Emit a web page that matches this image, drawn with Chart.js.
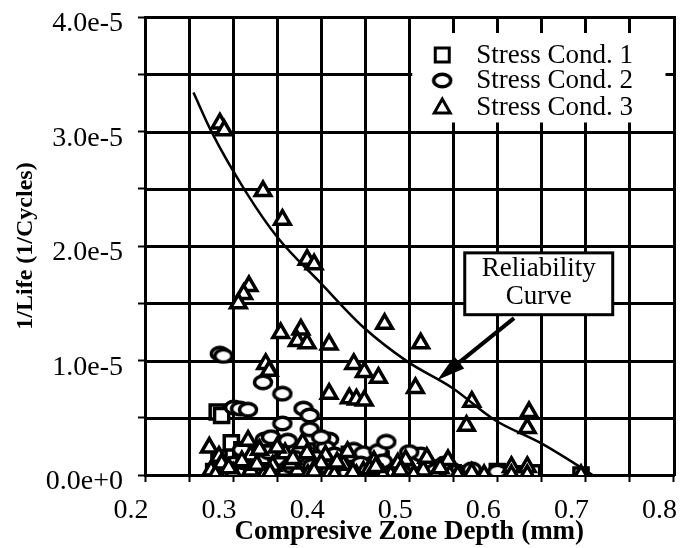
<!DOCTYPE html>
<html>
<head>
<meta charset="utf-8">
<title>Reliability curve</title>
<script src="https://cdn.jsdelivr.net/npm/chart.js@4.4.1/dist/chart.umd.min.js"></script>
<style>
  html, body { margin: 0; padding: 0; background: #fff; }
  canvas { display: block; }
</style>
</head>
<body>
<canvas id="myChart" width="687" height="548"></canvas>
<script>
/* globals Chart:false */

(() => {
  'use strict'

  // 1/Life values are written in units of 1e-5 (converted below)
  const cond1X = [0.282, 0.287, 0.298, 0.278, 0.292, 0.305, 0.318, 0.33, 0.342, 0.354, 0.366, 0.378, 0.39, 0.402, 0.414, 0.426, 0.438, 0.45, 0.462, 0.474, 0.486, 0.498, 0.51, 0.522, 0.535, 0.55, 0.57, 0.6, 0.625, 0.64, 0.695,
    0.284, 0.296, 0.31, 0.324, 0.336, 0.348, 0.36, 0.372, 0.384, 0.396, 0.408, 0.42, 0.432, 0.444, 0.456, 0.468, 0.48, 0.492, 0.504, 0.516, 0.528, 0.54]
  const cond1Y = [0.55, 0.52, 0.28, 0.03, 0.08, 0.02, 0.12, 0.04, 0.09, 0.19, 0.03, 0.11, 0.05, 0.02, 0.13, 0.06, 0.02, 0.08, 0.03, 0.05, 0.01, 0.04, 0.02, 0.06, 0.01, 0.02, 0.01, 0.03, 0.01, 0.02, 0.0,
    0.15, 0.0, 0.22, 0.0, 0.16, 0.01, 0.06, 0.0, 0.21, 0.0, 0.07, 0.0, 0.18, 0.01, 0.0, 0.14, 0.0, 0.03, 0.1, 0.0, 0.0, 0.05]

  const cond2X = [0.285, 0.289, 0.301, 0.308, 0.317, 0.334, 0.356, 0.356, 0.336, 0.343, 0.38, 0.387, 0.387, 0.409, 0.372, 0.437, 0.448, 0.465, 0.474, 0.513, 0.571, 0.3, 0.32, 0.35, 0.365, 0.395, 0.42, 0.455, 0.49, 0.53, 0.6,
    0.31, 0.325, 0.34, 0.37, 0.39, 0.405, 0.43, 0.47, 0.5, 0.54, 0.362, 0.4, 0.415, 0.445]
  const cond2Y = [1.06, 1.04, 0.59, 0.58, 0.57, 0.81, 0.71, 0.45, 0.31, 0.33, 0.58, 0.52, 0.4, 0.31, 0.22, 0.22, 0.19, 0.21, 0.29, 0.18, 0.05, 0.1, 0.18, 0.14, 0.08, 0.15, 0.12, 0.06, 0.09, 0.04, 0.03,
    0.22, 0.05, 0.2, 0.15, 0.08, 0.24, 0.02, 0.12, 0.2, 0.1, 0.3, 0.33, 0.18, 0.1]

  const cond3X = [0.285, 0.29, 0.334, 0.356, 0.384, 0.392, 0.318, 0.312, 0.306, 0.354, 0.377, 0.373, 0.384, 0.409, 0.472, 0.513, 0.337, 0.341, 0.437, 0.449, 0.465, 0.409, 0.432, 0.44, 0.449, 0.507, 0.571, 0.565, 0.636, 0.634,
    0.273, 0.284, 0.287, 0.275, 0.317, 0.32, 0.32, 0.33, 0.359, 0.345, 0.373, 0.379, 0.384, 0.393, 0.405, 0.41, 0.425, 0.448, 0.46, 0.479, 0.496, 0.498, 0.516, 0.53, 0.544, 0.546, 0.571, 0.585, 0.616, 0.616, 0.634, 0.634, 0.695,
    0.28, 0.3, 0.31, 0.335, 0.35, 0.365, 0.385, 0.4, 0.415, 0.43, 0.44, 0.455, 0.47, 0.487, 0.505, 0.52, 0.535, 0.555,
    0.295, 0.327, 0.342, 0.368, 0.392, 0.418, 0.436, 0.462, 0.49]
  const cond3Y = [3.07, 3.01, 2.48, 2.23, 1.88, 1.84, 1.65, 1.58, 1.5, 1.24, 1.27, 1.17, 1.15, 1.14, 1.32, 1.15, 0.97, 0.91, 0.97, 0.9, 0.85, 0.71, 0.67, 0.66, 0.65, 0.76, 0.64, 0.43, 0.55, 0.41,
    0.24, 0.16, 0.1, 0.04, 0.3, 0.17, 0.04, 0.22, 0.19, 0.08, 0.04, 0.28, 0.19, 0.06, 0.17, 0.02, 0.09, 0.03, 0.12, 0.0, 0.13, 0.0, 0.04, 0.0, 0.13, 0.0, 0.02, 0.0, 0.07, 0.0, 0.07, 0.0, 0.0,
    0.0, 0.02, 0.12, 0.0, 0.24, 0.1, 0.0, 0.1, 0.0, 0.2, 0.0, 0.05, 0.0, 0.1, 0.0, 0.15, 0.06, 0.0,
    0.06, 0.09, 0.02, 0.14, 0.03, 0.11, 0.02, 0.07, 0.04]

  const curveX = [0.255, 0.276, 0.314, 0.351, 0.399, 0.448, 0.498, 0.549, 0.597, 0.649, 0.694, 0.708]
  const curveY = [3.34, 2.99, 2.48, 2.07, 1.68, 1.29, 0.99, 0.76, 0.48, 0.28, 0.07, 0.0]

  const xTicks = [0.2, 0.25, 0.3, 0.35, 0.4, 0.45, 0.5, 0.55, 0.6, 0.65, 0.7, 0.75, 0.8]
  const xTickLabels = ['0.2', '', '0.3', '', '0.4', '', '0.5', '', '0.6', '', '0.7', '', '0.8']
  const yTicks = [0, 0.5, 1, 1.5, 2, 2.5, 3, 3.5, 4]
  const yTickLabels = ['0.0e+0', '', '1.0e-5', '', '2.0e-5', '', '3.0e-5', '', '4.0e-5']

  const seriesLabels = ['Stress Cond. 1', 'Stress Cond. 2', 'Stress Cond. 3']
  const curveLabel = ['Reliability', 'Curve']

  const SERIF = '"Liberation Serif", "Times New Roman", serif'
  const toPoints = (xs, ys) => xs.map((x, i) => ({ x, y: ys[i] * 1e-5 }))

  // slightly flattened open circle, as in the scanned figure
  function ellipseMarker () {
    const c = document.createElement('canvas')
    c.width = 22
    c.height = 17
    const g = c.getContext('2d')
    g.beginPath()
    g.ellipse(11, 8.5, 8.5, 6.3, 0, 0, Math.PI * 2)
    g.fillStyle = '#fff'
    g.fill()
    g.lineWidth = 3.5
    g.strokeStyle = '#000'
    g.stroke()
    return c
  }
  const circleStyle = ellipseMarker()

  function drawMarker (ctx, kind, cx, cy) {
    ctx.save()
    ctx.lineWidth = 3
    ctx.strokeStyle = '#000'
    ctx.fillStyle = '#fff'
    if (kind === 'rect') {
      ctx.fillRect(cx - 7, cy - 7, 14, 14)
      ctx.strokeRect(cx - 7, cy - 7, 14, 14)
    } else if (kind === 'circle') {
      ctx.drawImage(circleStyle, cx - 11, cy - 8)
    } else {
      ctx.beginPath()
      ctx.moveTo(cx, cy - 8)
      ctx.lineTo(cx + 8, cy + 6)
      ctx.lineTo(cx - 8, cy + 6)
      ctx.closePath()
      ctx.fill()
      ctx.stroke()
    }
    ctx.restore()
  }

  // heavy grid under the points, at every tick of both scales
  const heavyGrid = {
    id: 'heavyGrid',
    beforeDatasetsDraw (chart) {
      const { ctx, chartArea: a, scales: { x, y } } = chart
      ctx.save()
      ctx.strokeStyle = '#000'
      ctx.lineWidth = 3
      ctx.beginPath()
      x.ticks.forEach(t => {
        const px = Math.round(x.getPixelForValue(t.value)) + 0.5
        ctx.moveTo(px, a.top - 1)
        ctx.lineTo(px, a.bottom + 1)
      })
      y.ticks.forEach(t => {
        const py = Math.round(y.getPixelForValue(t.value)) + 0.5
        ctx.moveTo(a.left - 1, py)
        ctx.lineTo(a.right + 1, py)
      })
      ctx.stroke()
      ctx.restore()
    }
  }

  // legend box and the "Reliability Curve" call-out
  const notes = {
    id: 'notes',
    afterDatasetsDraw (chart) {
      const { ctx, scales: { x, y } } = chart
      ctx.save()

      // legend
      const lx = x.getPixelForValue(0.5) + 3
      const rx = x.getPixelForValue(0.8) - 8
      const ty = y.getPixelForValue(4e-5) + 16
      const by = y.getPixelForValue(3e-5) - 9
      ctx.fillStyle = '#fff'
      ctx.fillRect(lx, ty, rx - lx, by - ty)
      const kinds = ['rect', 'circle', 'triangle']
      const rows = [30, 55, 82]
      ctx.font = '27px ' + SERIF
      ctx.textBaseline = 'alphabetic'
      ctx.textAlign = 'left'
      seriesLabels.forEach((lab, i) => {
        drawMarker(ctx, kinds[i], lx + 30, ty + rows[i] - 8)
        ctx.fillStyle = '#000'
        ctx.fillText(lab, lx + 64, ty + rows[i])
      })

      // call-out box
      const bl = x.getPixelForValue(0.563)
      const br = x.getPixelForValue(0.731)
      const bt = y.getPixelForValue(1.94e-5)
      const bb = y.getPixelForValue(1.40e-5)
      ctx.fillStyle = '#fff'
      ctx.fillRect(bl, bt, br - bl, bb - bt)
      ctx.lineWidth = 3
      ctx.strokeStyle = '#000'
      ctx.strokeRect(bl, bt, br - bl, bb - bt)
      ctx.fillStyle = '#000'
      ctx.textAlign = 'center'
      ctx.font = '27px ' + SERIF
      ctx.fillText(curveLabel[0], (bl + br) / 2, bt + 23)
      ctx.fillText(curveLabel[1], (bl + br) / 2, bt + 51)

      // arrow
      const ax0 = x.getPixelForValue(0.619)
      const ay0 = y.getPixelForValue(1.37e-5)
      const ax1 = x.getPixelForValue(0.532)
      const ay1 = y.getPixelForValue(0.83e-5)
      const ang = Math.atan2(ay1 - ay0, ax1 - ax0)
      const hl = 28
      const hw = 8
      const bx = ax1 - Math.cos(ang) * hl
      const byy = ay1 - Math.sin(ang) * hl
      ctx.lineWidth = 4
      ctx.beginPath()
      ctx.moveTo(ax0, ay0)
      ctx.lineTo(bx, byy)
      ctx.stroke()
      ctx.beginPath()
      ctx.moveTo(ax1, ay1)
      ctx.lineTo(bx + Math.sin(ang) * hw, byy - Math.cos(ang) * hw)
      ctx.lineTo(bx - Math.sin(ang) * hw, byy + Math.cos(ang) * hw)
      ctx.closePath()
      ctx.fill()

      ctx.restore()
    }
  }

  Chart.defaults.font.family = SERIF
  Chart.defaults.color = '#000'

  const ctx = document.getElementById('myChart')
  // eslint-disable-next-line no-unused-vars
  const myChart = new Chart(ctx, {
    type: 'scatter',
    data: {
      datasets: [{
        label: curveLabel.join(' '),
        data: toPoints(curveX, curveY),
        showLine: true,
        cubicInterpolationMode: 'monotone',
        borderColor: '#000',
        borderWidth: 2.5,
        pointRadius: 0,
        order: 0
      }, {
        label: seriesLabels[2],
        data: toPoints(cond3X, cond3Y),
        pointStyle: 'triangle',
        pointRadius: 9,
        pointBorderWidth: 3.5,
        borderColor: '#000',
        backgroundColor: '#fff',
        order: 1
      }, {
        label: seriesLabels[1],
        data: toPoints(cond2X, cond2Y),
        pointStyle: circleStyle,
        pointRadius: 9,
        borderColor: '#000',
        backgroundColor: '#fff',
        order: 2
      }, {
        label: seriesLabels[0],
        data: toPoints(cond1X, cond1Y),
        pointStyle: 'rect',
        pointRadius: 10,
        pointBorderWidth: 3.5,
        borderColor: '#000',
        backgroundColor: '#fff',
        order: 3
      }]
    },
    options: {
      responsive: false,
      animation: false,
      events: [],
      layout: { padding: { top: 17, right: 5, left: 0, bottom: 0 } },
      plugins: {
        legend: { display: false },
        tooltip: { enabled: false }
      },
      scales: {
        x: {
          type: 'linear',
          min: 0.2,
          max: 0.8,
          afterBuildTicks: s => { s.ticks = xTicks.map(v => ({ value: v })) },
          afterFit: s => {
            s.height = 73
            s.paddingLeft = 0
            s.paddingRight = 0
          },
          grid: { color: '#000', lineWidth: 3, tickLength: 7, tickWidth: 2, drawOnChartArea: false },
          border: { color: '#000', width: 3 },
          ticks: {
            color: '#000',
            font: { size: 28 },
            padding: 12,
            labelOffset: -14,
            maxRotation: 0,
            autoSkip: false,
            callback: (v, i) => xTickLabels[i]
          },
          title: {
            display: true,
            text: 'Compresive Zone Depth (mm)',
            color: '#000',
            font: { size: 27, weight: 'bold' },
            padding: { top: 0, bottom: 0 }
          }
        },
        y: {
          type: 'linear',
          min: 0,
          max: 4e-5,
          afterBuildTicks: s => { s.ticks = yTicks.map(v => ({ value: v * 1e-5 })) },
          afterFit: s => {
            s.width = 145
            s.paddingTop = 0
            s.paddingBottom = 0
          },
          grid: { color: '#000', lineWidth: 3, tickLength: 7, tickWidth: 2, drawOnChartArea: false },
          border: { color: '#000', width: 3 },
          ticks: {
            color: '#000',
            font: { size: 28 },
            padding: 15,
            labelOffset: 7,
            autoSkip: false,
            callback: (v, i) => yTickLabels[i]
          },
          title: {
            display: true,
            text: '1/Life (1/Cycles)',
            color: '#000',
            font: { size: 24, weight: 'bold' },
            padding: { top: 11, bottom: 0 }
          }
        }
      }
    },
    plugins: [heavyGrid, notes]
  })
})()
</script>
</body>
</html>
